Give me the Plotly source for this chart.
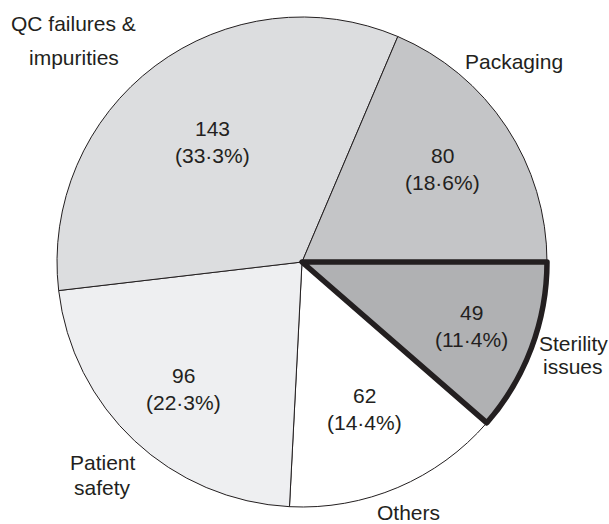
import math
import plotly.graph_objects as go

# Categories and counts (drawn clockwise, starting with "Others")
categories = ["Others", "Patient safety", "QC failures & impurities", "Packaging", "Sterility issues"]
counts = [62, 96, 143, 80, 49]
outside_labels = [["Others"], ["Patient", "safety"], ["QC failures &", "impurities"],
                  ["Packaging"], ["Sterility", "issues"]]

# Styling
fills = ["#ffffff", "#eeeff1", "#dcdddf", "#c4c5c7", "#b0b1b3"]
edge_widths = [1, 1, 1, 1, 5.5]
ink = "#231f20"
font_family = "Liberation Sans, Arial, Helvetica, sans-serif"
font_size = 21
W, H = 609, 524
CX, CY, R = 302, 262, 245          # pie centre / radius in pixels
START = 90 + 360 * counts[-1] / sum(counts)   # "Others" begins where "Sterility" ends

# per-slice label placement: radius factor of value text; angle nudge, radius factor and line gap of outside text
inner_r = [0.65, 0.71, 0.61, 0.69, 0.74]
outer_nudge = [0, 0, -9, -10, -1.5]
outer_r = [1.11, 1.19, 1.30, 1.19, 1.17]
outer_gap = [0, 25, 34, 0, 23]
inner_gap = 27

fig = go.Figure(go.Pie(
    labels=categories,
    values=counts,
    sort=False,
    direction="clockwise",
    rotation=START,
    marker=dict(colors=fills, line=dict(color=ink, width=edge_widths)),
    textinfo="none",
    hoverinfo="skip",
    domain=dict(x=[(CX - R) / W, (CX + R) / W], y=[(H - CY - R) / H, (H - CY + R) / H]),
))

total = sum(counts)


def place(lines, angle_deg, rfac, gap):
    """Add one annotation per text line, centred on a polar position around the pie."""
    a = math.radians(angle_deg)
    px = CX + rfac * R * math.sin(a)
    py = CY - rfac * R * math.cos(a)
    n = len(lines)
    for k, line in enumerate(lines):
        ly = py + (k - (n - 1) / 2) * gap
        fig.add_annotation(
            x=px / W, y=1 - ly / H, xref="paper", yref="paper",
            text=line, showarrow=False, xanchor="center", yanchor="middle",
            font=dict(family=font_family, size=font_size, color=ink),
        )


angle = START
for i, v in enumerate(counts):
    span = 360 * v / total
    mid = angle + span / 2
    pct = f"{100 * v / total:.1f}".replace(".", "\u00b7")
    place([str(v), f"({pct}%)"], mid, inner_r[i], inner_gap)
    place(outside_labels[i], mid + outer_nudge[i], outer_r[i], outer_gap[i])
    angle += span

fig.update_layout(
    width=W, height=H,
    margin=dict(l=0, r=0, t=0, b=0),
    showlegend=False,
    paper_bgcolor="white",
    plot_bgcolor="white",
)

fig.write_html("out.html")
